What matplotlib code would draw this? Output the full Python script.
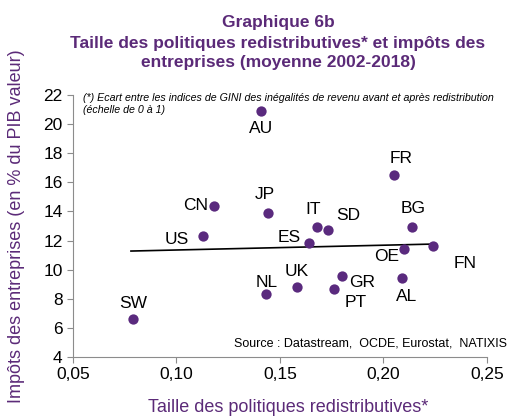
import numpy as np
import matplotlib
matplotlib.use("Agg")
import matplotlib.pyplot as plt

plt.rcParams['font.family'] = ['Liberation Sans', 'DejaVu Sans']

# data
countries = ['AU', 'CN', 'JP', 'US', 'SW', 'FR', 'IT', 'SD', 'BG', 'ES',
             'OE', 'FN', 'NL', 'UK', 'GR', 'PT', 'AL']
redistrib = [0.141, 0.118, 0.144, 0.113, 0.079, 0.205, 0.168, 0.173, 0.214, 0.164,
             0.210, 0.224, 0.143, 0.158, 0.180, 0.176, 0.209]
impots = [20.9, 14.4, 13.9, 12.3, 6.6, 16.5, 12.9, 12.7, 12.9, 11.8,
          11.4, 11.6, 8.3, 8.8, 9.6, 8.7, 9.4]

# trend line as drawn in the source (Excel linear trend)
trend_x = [0.078, 0.224]
trend_y = [11.28, 11.76]

# label offsets in pixels (dx, dy, ha)
offsets = {
    'AU': (0, -17, 'center'), 'CN': (-6, 0, 'right'), 'JP': (-3, 18, 'center'),
    'US': (-15, -3, 'right'), 'SW': (0, 16, 'center'), 'FR': (7, 17, 'center'),
    'IT': (-4, 18, 'center'), 'SD': (21, 15, 'center'), 'BG': (1, 19, 'center'),
    'ES': (-8, 6, 'right'), 'OE': (-18, -7, 'center'), 'FN': (32, -17, 'center'),
    'NL': (1, 12, 'center'), 'UK': (0, 16, 'center'), 'GR': (20, -7, 'center'),
    'PT': (22, -14, 'center'), 'AL': (4, -18, 'center'),
}

purple = '#5a2a7e'
title_col = '#5b2a78'
gray = '#8c8c8c'

fig = plt.figure(figsize=(5.13, 4.18), dpi=100)
ax = fig.add_axes([0.1423, 0.1459, 0.8070, 0.6268])

ax.scatter(redistrib, impots, s=55, color=purple, zorder=3, linewidths=0)
ax.plot(trend_x, trend_y, color='black', lw=1.2, zorder=2)

for c, xv, yv in zip(countries, redistrib, impots):
    dx, dy, ha = offsets[c]
    ax.annotate(c, (xv, yv), xytext=(dx, dy), textcoords='offset pixels',
                ha=ha, va='center', fontsize=12.5, color='black')

ax.set_xlim(0.05, 0.25)
ax.set_ylim(4, 22)
ax.set_xticks(np.arange(0.05, 0.251, 0.05))
ax.set_xticklabels(['0,05', '0,10', '0,15', '0,20', '0,25'])
ax.set_yticks(np.arange(4, 23, 2))
ax.tick_params(axis='both', labelsize=12.5, color=gray, direction='out', length=4)
for s in ['top', 'right']:
    ax.spines[s].set_visible(False)
for s in ['left', 'bottom']:
    ax.spines[s].set_color(gray)

ax.set_xlabel('Taille des politiques redistributives*', fontsize=13, color=title_col, labelpad=14)
ax.xaxis.set_label_coords(0.52, -0.16)
ax.set_ylabel('Impôts des entreprises (en % du PIB valeur)', fontsize=13, color=title_col, labelpad=13)

fig.text(0.542, 0.945, 'Graphique 6b', ha='center', va='center', fontsize=12.5,
         fontweight='bold', color=title_col)
fig.text(0.542, 0.897, 'Taille des politiques redistributives* et impôts des', ha='center',
         va='center', fontsize=12.5, fontweight='bold', color=title_col)
fig.text(0.542, 0.850, 'entreprises (moyenne 2002-2018)', ha='center', va='center',
         fontsize=12.5, fontweight='bold', color=title_col)

ax.text(0.024, 1.008, "(*) Ecart entre les indices de GINI des inégalités de revenu avant et après redistribution\n(échelle de 0 à 1)",
        transform=ax.transAxes, ha='left', va='top', fontsize=7.7, style='italic')
ax.text(1.048, 0.027, 'Source : Datastream,  OCDE, Eurostat,  NATIXIS', transform=ax.transAxes,
        ha='right', va='bottom', fontsize=9)

fig.savefig('out.png', dpi=100)
